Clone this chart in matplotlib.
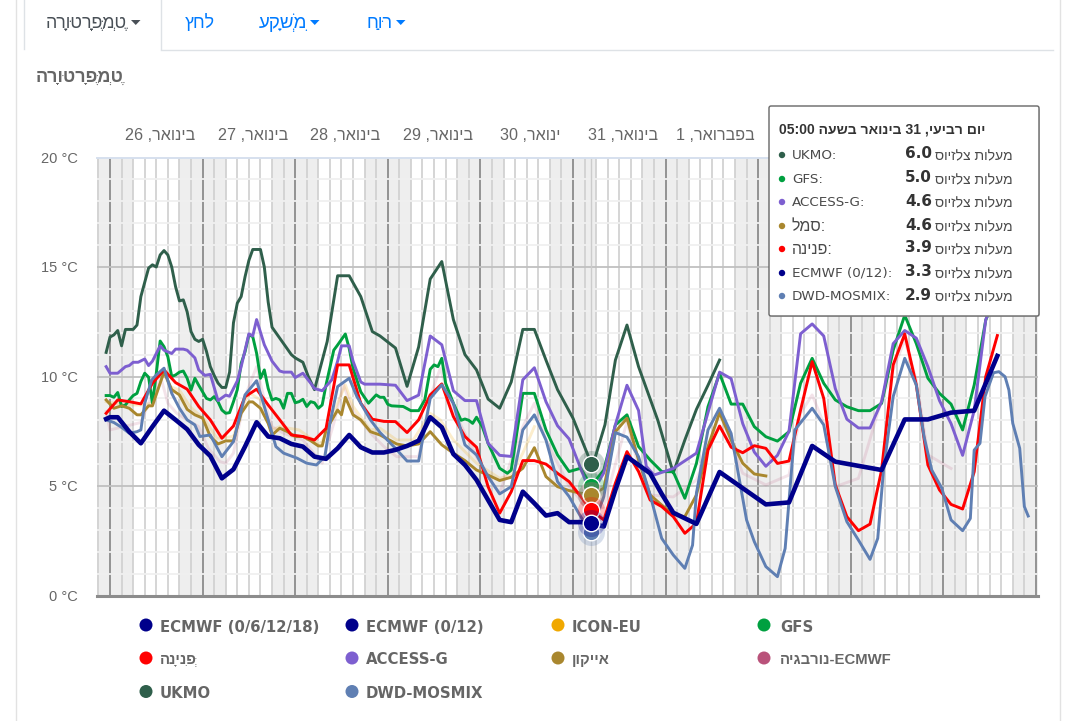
import re
import matplotlib
matplotlib.use("Agg")
import matplotlib.pyplot as plt
from matplotlib.patches import FancyBboxPatch, Circle, Polygon
from matplotlib.transforms import blended_transform_factory as btf

plt.rcParams['font.family'] = ['Liberation Sans', 'DejaVu Sans']

ukmo_t = [-1,0,1,2,3,4,6,7,8,9,10,11,12,13,14,15,16,17,18,19,20,21,22,23,24,25,26,27,28,29,30,31,32,33,34,35,36,37,38,39,40,41,42,43,44,45,46,47,48,50,51.4,53,56.3,59,62,65,68,70,74,77,80,83,86,89,92,95,98,101,104,107,110,113,116,120,124.7,125.7,128.3,131,134,137,142,146,149,152,155,158]
ukmo_v = [11.1,11.8,11.9,12.1,11.4,12.15,12.15,12.35,13.65,14.3,14.95,15.1,15.0,15.55,15.75,15.55,15.0,14.1,13.45,13.5,12.95,12.05,11.7,11.6,11.7,11.15,10.45,10.05,9.7,9.5,9.5,10.2,12.45,13.35,13.65,14.55,15.3,15.8,15.8,15.8,15.0,13.4,12.25,12.0,11.75,11.5,11.25,11.0,10.85,10.65,10.0,9.4,11.6,14.6,14.6,13.65,12.05,11.85,11.3,9.55,11.35,14.45,15.25,12.6,11.0,10.3,8.97,8.55,9.75,12.15,12.15,10.75,9.4,8.1,6.05,6.27,7.8,10.75,12.35,10.45,8.0,5.6,7.1,8.5,9.6,10.75]

access_t = [-1,0,2,4,5,6,7.3,9,10,11,13,14,16,17,19,20,22,23,24.6,26,28,30,31,33,34,35,36,37,38,40,42,44,45,47,48,50,52,53,55,57.5,59,60,62,63,65,66,68.7,70,74,77,80,83,86,89,92,95,98,101,104,107,110,113,116,119,122,124.7,128,131,134,137,139,141,146,152,158,161,164,167,170,173,176,179,182,185,188,191,194,197,200,203,206,209,212,215,218,221,224,227,228]
access_v = [10.45,10.15,10.15,10.45,10.5,10.65,10.65,10.8,10.5,10.7,11.4,11.2,11.05,11.25,11.25,11.2,10.85,10.3,10.05,10.1,8.9,9.15,9.1,9.8,10.45,11.2,11.95,11.85,12.6,11.45,10.7,10.25,10.2,10.2,9.95,10.15,9.7,9.45,9.35,9.85,10.7,11.4,11.4,10.7,9.75,9.65,9.65,9.65,9.6,8.9,9.15,11.85,11.45,9.35,8.9,8.9,6.95,6.4,6.35,9.85,10.4,8.85,7.75,7.15,5.8,4.6,5.6,7.8,9.6,8.45,5.9,5.5,5.8,6.5,10.2,9.9,7.85,6.55,5.9,6.4,7.5,11.95,12.4,11.85,9.45,8.05,7.65,7.65,8.85,11.5,12.1,11.75,10.45,8.9,7.85,6.4,8.45,12.6,13.0]

gfs_t = [-1,0,1,2,3,4,5,6,7,8,9,10,11,12,13,14,15,16,17,18,19,20,21,22,23,24,25,26,27,28,29,30,31,32,33,34,35,36,37,38,39,40,41,42,43,44,45,46,47,48,49,50,51,52,53,54,55,56,58,59,61,62,63,65,67,69,70,71,72,73,76,78,80,81.6,83,84,85,86,87,89,91,92,93,94,95,96.5,98,101,103,104,107,110,113,116,119,122,124.7,128,131,134,137,140,143,146,149,152,155,158,161,164,167,170,173,176,179,182,185,188,191,194,197,200,203,206,209,212,215,218,221,224,227,228]
gfs_v = [9.13,9.13,9.05,9.27,8.63,8.7,8.93,9.13,9.23,9.77,10.15,9.97,8.78,10.15,11.62,11.36,10.9,10.0,10.07,10.2,10.25,9.92,9.38,9.92,9.6,9.3,9.0,8.93,9.08,8.85,8.47,8.32,8.35,8.85,9.4,10.6,11.13,11.9,11.82,11.06,9.92,10.3,9.46,8.93,9.0,8.93,8.55,9.23,9.23,8.8,8.85,8.96,8.63,8.85,8.8,8.55,8.7,9.62,11.2,11.44,11.94,11.28,10.37,9.3,8.78,9.16,9.05,9.05,8.73,8.66,8.63,8.44,8.44,8.93,10.33,10.53,10.45,10.83,9.69,8.78,8.0,8.06,8.0,7.86,8.14,7.71,6.95,5.81,5.58,5.73,9.23,9.23,7.56,6.42,5.66,5.81,5.0,5.73,7.79,8.25,6.8,6.19,5.66,5.65,4.44,6.03,8.62,10.14,8.74,8.74,7.71,7.25,7.05,7.48,9.69,10.83,9.69,8.93,8.62,8.44,8.44,8.77,11.2,12.8,11.5,9.92,9.23,8.74,7.56,9.61,12.58,13.0]

pinina_t = [-1,2,5,8,11,14,17,20,23,26,29,32,35,38,41,44,47,50,53,56,59,62,65,68,71,74,77,80,83,86,89,92,95,98,101,104,107,110,113,116,119,122,124.7,128,131,134,137,140,143,146,149,152,155,158,161,164,167,170,173,176,179,182,185,188,191,194,197,200,203,206,209,212,215,218,221,224,227,230]
pinina_v = [8.32,8.93,8.85,8.75,9.69,10.3,9.72,9.42,8.63,8.02,7.18,7.74,9.08,9.42,8.7,8.02,7.33,7.26,7.1,7.63,10.53,10.53,8.78,8.05,7.95,7.94,7.44,8.02,9.16,9.66,8.17,7.26,6.77,4.97,3.76,4.74,6.16,6.16,6.0,5.58,5.2,4.52,3.9,3.45,5.13,6.57,5.66,4.36,4.06,3.6,2.84,3.3,6.64,7.74,6.77,6.52,6.84,6.72,6.03,6.14,8.47,10.68,9.0,5.05,3.6,2.96,3.26,5.73,10.53,11.94,9.61,5.96,4.82,4.16,3.95,5.65,10.0,11.87]

ecmwf_t = [-1,0,2,5,8,11,14,17,20,23,26,29,32,35,38,41,44,47,50,53,56,59,62,65,68,71,74,77,80,83,86,89,92,95,98,101,104,107,110,113,116,119,122,124.7,128,131,134,137,140,143,146,152,158,170,176,182,188,200,206,212,218,224,230]
ecmwf_v = [8.06,8.14,8.14,7.48,6.95,7.71,8.44,8.02,7.59,6.88,6.37,5.35,5.76,6.8,7.91,7.26,7.18,6.92,6.8,6.34,6.24,6.72,7.33,6.77,6.53,6.53,6.65,6.83,7.07,8.14,7.68,6.46,5.96,5.28,4.36,3.45,3.35,4.74,4.21,3.65,3.76,3.35,3.35,3.3,3.15,4.82,6.34,5.96,5.58,4.64,3.78,3.27,5.64,4.16,4.25,6.83,6.11,5.73,8.04,8.04,8.35,8.44,10.94]

aikon_t = [-1,1,3,5,7,8,10,11,14,16,18,20,22,24,26,28,30,32,34,36,37,39,41,42,44,46,48,50,52,54,55,56,59,60,61,63,65,67.5,70,74.3,77,80,83,86,89,92,95,98,101,104,107,110,113,116,119,122,124.7,128,131,134,137,140,143,146,149,152,155,158,161,164,167,170]
aikon_v = [8.93,8.55,8.66,8.55,8.25,8.25,8.66,8.66,10.22,9.4,9.16,8.5,8.25,8.1,7.26,6.92,7.06,7.06,8.32,8.84,8.84,8.55,7.86,7.33,7.64,7.48,7.26,7.26,7.07,6.83,6.83,7.56,8.47,8.25,9.05,8.25,8.02,7.48,7.33,6.92,6.83,6.92,7.48,6.88,6.5,6.16,5.73,5.5,5.25,5.4,5.81,6.75,5.43,4.97,4.79,4.67,4.6,4.9,7.48,8.09,6.19,4.59,4.13,3.7,3.6,4.59,6.8,8.35,7.1,6.04,5.55,5.46]

dwd_t = [-1,1,3,5,7,8,9,10.8,12,14,16,18,20,22,23.3,26,29,32,35,38,40,43,45,48.5,51,53.5,55.7,57,59,62,64,67.5,70,74,77,80,83,86,89,92,95,98,101,104,107,110,113,116,119,122,124.7,128,131,134,137,140,143,146,149,151,152,155,158,161,165,167,170,173,175,177.5,182,185,188,191,194,197,199,200.5,203,206,209,211,213,215.6,218,221,223,224,225.5,226.8,229,230.4,232,233,234,235.8,237,238]
dwd_v = [8.02,7.9,7.68,7.41,7.48,7.56,8.78,9.84,10.07,10.38,9.23,8.55,8.02,7.79,7.26,7.33,6.34,7.03,9.16,9.81,8.63,6.8,6.5,6.27,6.04,5.96,6.34,7.86,9.54,9.92,9.08,8.02,7.44,6.72,6.14,6.14,9.0,9.62,8.78,6.88,6.42,5.43,4.64,4.97,7.56,8.25,7.1,5.2,4.52,3.6,2.9,4.52,7.44,7.23,6.34,4.59,2.61,1.85,1.24,2.3,4.67,7.56,8.55,7.4,3.45,2.46,1.32,0.86,2.15,7.56,8.55,7.79,4.97,3.37,2.53,1.65,2.61,5.73,9.08,10.83,9.61,7.25,5.73,4.9,3.45,2.96,3.52,6.64,6.95,9.08,10.17,10.22,9.99,9.38,7.86,6.72,4.06,3.63]

norway_t = [-1,0,8,13,15,17.3,20,23,25.5,28.5,30,32,35,38,40,42,45,50,55,58,60.5,63,68,71,74.3,80,83,85.6,89,95,98,101,107,110,113,119,124.7,128,134,137,140,146,152,155,158,161,164,170,176,179,182,185,188,194,200,206,209,212,218]
norway_v = [8.4,7.56,7.9,10.07,8.78,8.32,8.02,7.71,6.72,6.11,6.04,6.5,9.08,10.45,8.93,7.71,7.41,7.1,6.04,7.86,9.62,8.4,7.33,6.8,6.34,6.34,9.08,10.37,8.47,6.34,5.43,4.67,7.71,8.78,7.1,5.0,3.75,4.06,7.94,5.89,4.59,4.5,5.27,6.64,8.32,6.95,5.58,5.05,5.5,8.32,9.16,7.86,4.97,5.35,8.93,11.67,9.84,6.42,5.8]

icon_t = [-1,3.5,8,11,14,15.5,18,20.7,24.6,27.7,32,34.6,36.3,39,42,44,49,54.5,56,59,61,63,67.5,70,74.3,78.6,83,85.6,89,95,101,104,107,110]
icon_v = [8.85,8.7,8.7,8.78,10.15,9.54,9.38,8.63,8.02,7.18,7.26,8.78,9.23,8.93,7.56,7.71,7.56,6.88,7.41,8.78,9.62,8.63,7.56,7.64,7.1,7.1,8.32,8.02,7.1,6.04,5.35,5.5,6.5,7.71]

C_ECMWF, C_ICON, C_GFS, C_RED = '#00008B', '#F0A800', '#00A040', '#FF0000'
C_ACCESS, C_AIKON, C_NOR, C_UKMO, C_DWD = '#7D5FD0', '#A9872E', '#B9527A', '#2F5F4B', '#5F7FB3'

def vis(s):
    """Hebrew in visual order, since matplotlib lays glyphs out left to right."""
    tokens = re.findall(r'[\u05d0-\u05ea][\u0591-\u05c7]*|[A-Za-z0-9:/().]+|.', s)
    return ''.join(reversed(tokens))

TEMP_POINTED = 'טֶמְפֶּרָטוּרָה'
day_labels = ['26 ,' + vis('בינואר'), '27 ,' + vis('בינואר'), '28 ,' + vis('בינואר'), '29 ,' + vis('בינואר'),
              '30 ,' + vis('ינואר'), '31 ,' + vis('בינואר'), '1 ,' + vis('בפברואר')]
hover_t = 124.7
tooltip_title = vis('יום רביעי, 31 בינואר בשעה 05:00')
tooltip_names = ['UKMO:', 'GFS:', 'ACCESS-G:', vis('סמל') + ':', vis('פנינה') + ':', 'ECMWF (0/12):', 'DWD-MOSMIX:']
tooltip_vals = [6.0, 5.0, 4.6, 4.6, 3.9, 3.3, 2.9]
tooltip_cols = [C_UKMO, C_GFS, C_ACCESS, C_AIKON, C_RED, C_ECMWF, C_DWD]
unit = vis('מעלות צלזיוס')
legend_labels = ['ECMWF (0/6/12/18)', 'ECMWF (0/12)', 'ICON-EU', 'GFS',
                 vis('פְּנִינָה'), 'ACCESS-G', vis('אייקון'), vis('נורבגיה') + '-ECMWF',
                 'UKMO', 'DWD-MOSMIX']
legend_cols = [C_ECMWF, C_ECMWF, C_ICON, C_GFS, C_RED, C_ACCESS, C_AIKON, C_NOR, C_UKMO, C_DWD]

W, H = 1066, 721
fig = plt.figure(figsize=(W / 100, H / 100), dpi=100, facecolor='white')
L, R, T, B = 97, 1038, 157.5, 595.5
ax = fig.add_axes([L / W, 1 - B / H, (R - L) / W, (B - T) / H])
PX = 3.858
ax.set_xlim((L - 110) / PX, (R - 110) / PX)
ax.set_ylim(0, 20)

ax.axvspan((L - 110) / PX, 6, color='#EEEEEE', lw=0, zorder=0)
for k in range(0, 10):
    ax.axvspan(18 + 24 * k, 30 + 24 * k, color='#EEEEEE', lw=0, zorder=0)

ax.set_xticks(range(0, 241, 24))
ax.set_xticks(range(-3, 241, 3), minor=True)
ax.set_yticks([0, 5, 10, 15, 20])
ax.set_yticks(range(0, 21), minor=True)
ax.set_yticklabels(['0 °C', '5 °C', '10 °C', '15 °C', '20 °C'], color='#666666', fontsize=10.5)
ax.set_xticklabels([])
ax.tick_params(which='both', length=0)
ax.tick_params(axis='y', pad=14)
ax.grid(True, which='major', axis='x', color='#8C8C8C', lw=1.3, zorder=1)
ax.grid(True, which='minor', axis='x', color='#D2D2D2', lw=1.3, zorder=0.8)
ax.grid(True, which='major', axis='y', color='#C0C0C0', lw=1.3, zorder=1)
ax.grid(True, which='minor', axis='y', color='#F0F0F0', lw=1.3, zorder=0.6)
ax.set_axisbelow(True)
for s in ['left', 'right']:
    ax.spines[s].set_visible(False)
ax.spines['top'].set_color('#D6E0EE')
ax.spines['top'].set_linewidth(1.4)
ax.spines['bottom'].set_color('#8C8C8C')
ax.spines['bottom'].set_linewidth(2.2)

LW = 2.1
ax.plot(norway_t, norway_v, color=C_NOR, lw=LW, alpha=0.16, zorder=3)
ax.plot(icon_t, icon_v, color=C_ICON, lw=LW, alpha=0.2, zorder=3)
ax.plot(ukmo_t, ukmo_v, color=C_UKMO, lw=LW, zorder=4)
ax.plot(gfs_t, gfs_v, color=C_GFS, lw=LW, zorder=4.1)
ax.plot(access_t, access_v, color=C_ACCESS, lw=LW, zorder=4.2)
ax.plot(aikon_t, aikon_v, color=C_AIKON, lw=LW, zorder=4.3)
ax.plot(pinina_t, pinina_v, color=C_RED, lw=LW, zorder=4.4)
ax.plot(dwd_t, dwd_v, color=C_DWD, lw=LW, zorder=4.5)
ax.plot(ecmwf_t, ecmwf_v, color=C_ECMWF, lw=3.3, zorder=4.7)
ax.axvline(hover_t, color='#CCCCCC', lw=1.0, zorder=2)

hover_order = [(2.9, C_DWD), (5.0, C_GFS), (6.0, C_UKMO), (4.6, C_ACCESS), (4.6, C_AIKON), (3.9, C_RED), (3.3, C_ECMWF)]
for i, (v, c) in enumerate(hover_order):
    ax.scatter([hover_t], [v], s=378, color=c, alpha=0.25, lw=0, zorder=5 + i * 0.1, clip_on=False)
    ax.scatter([hover_t], [v], s=141, color=c, edgecolor='white', lw=1.0, zorder=5.05 + i * 0.1, clip_on=False)

trans = btf(ax.transData, ax.transAxes)
for k, lab in enumerate(day_labels):
    ax.text(k * 24 + 13, 1.05, lab, transform=trans, ha='center', va='center', fontsize=11.6, color='#666666')

# page furniture and HTML-side overlays, in pixel coordinates
ui = fig.add_axes([0, 0, 1, 1], facecolor='none')
ui.set_xlim(0, W)
ui.set_ylim(H, 0)
ui.axis('off')
ui.set_zorder(10)
ui.plot([16, 16], [0, H], color='#E2E2E2', lw=1)
ui.plot([1060, 1060], [0, H], color='#E2E2E2', lw=1)
ui.plot([24, 24], [0, 49], color='#DEE2E6', lw=1)
ui.plot([160.5, 160.5], [0, 49], color='#DEE2E6', lw=1)
ui.plot([160.5, 1053], [49.5, 49.5], color='#DEE2E6', lw=1)

BLUE = '#007BFF'
ui.text(127, 23, vis(TEMP_POINTED), ha='right', va='center', fontsize=12.8, color='#495057')
ui.text(215, 23, vis('לחץ'), ha='right', va='center', fontsize=12.8, color=BLUE)
ui.text(307, 23, vis('מִשְׁקָע'), ha='right', va='center', fontsize=13.5, color=BLUE)
ui.text(393, 23, vis('רוּחַ'), ha='right', va='center', fontsize=13, color=BLUE)
for x0, c in [(131, '#495057'), (310, BLUE), (396, BLUE)]:
    ui.add_patch(Polygon([(x0, 20), (x0 + 9.5, 20), (x0 + 4.75, 25)], closed=True, color=c, lw=0))
ui.text(124, 77, vis(TEMP_POINTED), ha='right', va='center', fontsize=13, fontweight='bold', color='#666666')

# tooltip
ui.add_patch(FancyBboxPatch((771, 108), 269, 209, boxstyle='round,pad=0,rounding_size=2', fc='#BBBBBB', ec='none', alpha=0.5, zorder=20))
ui.add_patch(FancyBboxPatch((769, 106), 270, 210, boxstyle='round,pad=0,rounding_size=2', fc='white', ec='#666666', lw=1.0, zorder=21))
ui.text(779, 130, tooltip_title, ha='left', va='center', fontsize=10.1, fontweight='bold', color='#333333', zorder=22)
row_y = [155, 179, 202, 226, 249, 273, 296]
for i, (y, n, v, c) in enumerate(zip(row_y, tooltip_names, tooltip_vals, tooltip_cols)):
    ui.add_patch(Circle((782, y), 3.2, color=c, lw=0, zorder=22))
    hebrew_name = i in (3, 4)
    ui.text(792, y + 0.5, n, ha='left', va='center', fontsize=11.5 if hebrew_name else 9.7, color='#4A4A4A',
            family=['Liberation Sans'] if hebrew_name else ['DejaVu Sans'], zorder=22)
    ui.text(932, y - 1, f'{v:.1f}', ha='right', va='center', fontsize=11, fontweight='bold', color='#333333', family=['DejaVu Sans'], zorder=22)
    ui.text(1013, y + 1.5, unit, ha='right', va='center', fontsize=10, color='#4A4A4A', zorder=22)

# legend
leg_x = [146, 352, 558, 764]
leg_y = [626, 659, 692.5]
hebrew_legend = {4, 6, 7}
for i, (lab, c) in enumerate(zip(legend_labels, legend_cols)):
    x, y = leg_x[i % 4], leg_y[i // 4]
    ui.add_patch(Circle((x, y - 1), 6.5, color=c, lw=0))
    ui.text(x + 14 + (2 if i % 4 == 3 else 0), y + 1, lab, ha='left', va='center', fontsize=10.7, fontweight='bold', color='#666666',
            family=['Liberation Sans', 'DejaVu Sans'] if i in hebrew_legend else ['DejaVu Sans'])

fig.savefig('out.png', dpi=100)
